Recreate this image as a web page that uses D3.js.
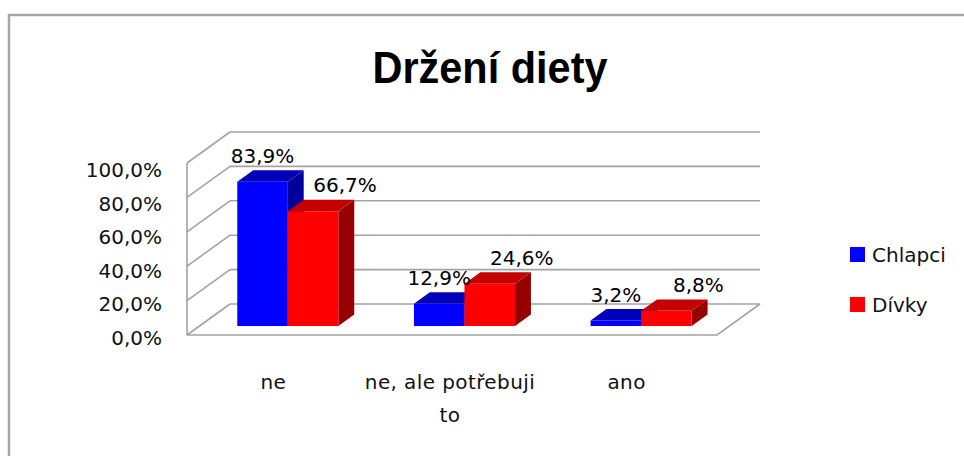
<!DOCTYPE html>
<html>
<head>
<meta charset="utf-8">
<script src="https://cdn.jsdelivr.net/npm/d3@7/dist/d3.min.js"></script>
<style>
  html, body { margin: 0; padding: 0; background: #fff; }
  svg { display: block; }
</style>
</head>
<body>
<svg id="chart" width="964" height="456"></svg>
<script>
const title = "Držení diety";
const categories = ["ne", "ne, ale potřebuji to", "ano"];
const categoryLines = [["ne"], ["ne, ale potřebuji", "to"], ["ano"]];
const seriesNames = ["Chlapci", "Dívky"];
const chlapci = [83.9, 12.9, 3.2];
const divky = [66.7, 24.6, 8.8];
const tickValues = [0, 20, 40, 60, 80, 100];

const seriesValues = [chlapci, divky];
const frontColors = ["#0000ff", "#ff0000"];
const topColors = ["#0000bb", "#c40000"];
const sideColors = ["#00009c", "#960000"];

const fmt = v => v.toFixed(1).replace(".", ",") + "%";

const svg = d3.select("#chart");
const font = "'DejaVu Sans', Verdana, sans-serif";

// outer frame
svg.append("rect").attr("x", 9).attr("y", 15).attr("width", 1000).attr("height", 500)
  .attr("fill", "none").attr("stroke", "#a6a6a6").attr("stroke-width", 2.5);

// title
svg.append("text").attr("x", 490).attr("y", 83).attr("text-anchor", "middle")
  .attr("font-family", "'Liberation Sans Narrow', 'Liberation Sans', Arial, sans-serif").attr("font-weight", "bold")
  .attr("font-size", 45).attr("textLength", 235).attr("lengthAdjust", "spacingAndGlyphs")
  .attr("fill", "#000").text(title);

// 3D geometry
const DX = 43, DY = -31;          // full depth offset
const x = d3.scaleBand().domain(categories).range([187, 717]).padding(0);
const y = d3.scaleLinear().domain([0, 100]).range([335, 163]);
const yLabel = d3.scaleLinear().domain([0, 100]).range([338, 170]);
const proj = (px, py, d) => [px + DX * d, py + DY * d];

const gridColor = "#a3a3a3";
const grid = svg.append("g").attr("stroke", gridColor).attr("stroke-width", 1.6).attr("fill", "none");

// side wall slanted lines + back wall horizontal lines
tickValues.forEach(v => {
  const [bx, by] = proj(x.range()[0], y(v), 1);
  grid.append("line").attr("x1", x.range()[0]).attr("y1", y(v)).attr("x2", bx).attr("y2", by);
  const [ex] = proj(x.range()[1], y(v), 1);
  grid.append("line").attr("x1", bx).attr("y1", by).attr("x2", ex).attr("y2", by);
});
// side wall front edge
grid.append("line").attr("x1", x.range()[0]).attr("y1", y(0)).attr("x2", x.range()[0]).attr("y2", y(100));
// floor front + right edge
{
  const [rx, ry] = proj(x.range()[1], y(0), 1);
  grid.append("path").attr("d", `M${x.range()[0]},${y(0)} L${x.range()[1]},${y(0)} L${rx},${ry}`);
}

// y tick labels
const yAxis = d3.axisLeft(yLabel).tickValues(tickValues).tickSize(0).tickPadding(0).tickFormat(fmt);
const ya = svg.append("g").attr("transform", "translate(162,0)").call(yAxis);
ya.select(".domain").remove();
ya.selectAll("text").attr("font-family", font).attr("font-size", 20).attr("fill", "#111");

// bars
const D0 = 0.29, D1 = 0.66;
const barW = x.bandwidth() * 0.286;
const bars = svg.append("g");
const labels = [];
categories.forEach((c, i) => {
  const center = x(c) + x.bandwidth() / 2;
  seriesValues.forEach((vals, s) => {
    const v = vals[i];
    const x0 = center - barW + s * barW;
    const x1 = x0 + barW;
    const [fx0, fyb] = proj(x0, y(0), D0);
    const [fx1] = proj(x1, y(0), D0);
    const fyt = proj(x0, y(v), D0)[1];
    const ddx = DX * (D1 - D0), ddy = DY * (D1 - D0);
    // side
    bars.append("path").attr("fill", sideColors[s])
      .attr("d", `M${fx1},${fyb} L${fx1 + ddx},${fyb + ddy} L${fx1 + ddx},${fyt + ddy} L${fx1},${fyt} Z`);
    // top
    bars.append("path").attr("fill", topColors[s])
      .attr("d", `M${fx0},${fyt} L${fx1},${fyt} L${fx1 + ddx},${fyt + ddy} L${fx0 + ddx},${fyt + ddy} Z`);
    // front
    bars.append("rect").attr("x", fx0).attr("y", fyt).attr("width", fx1 - fx0).attr("height", fyb - fyt)
      .attr("fill", frontColors[s]);
    labels.push({ x: (fx0 + fx1) / 2 + (s === 1 ? 32 : 0), y: fyt - 26, t: fmt(v) });
  });
});

svg.append("g").selectAll("text").data(labels).join("text")
  .attr("x", d => d.x).attr("y", d => d.y).attr("dy", "0.36em").attr("text-anchor", "middle")
  .attr("font-family", font).attr("font-size", 20).attr("fill", "#000").text(d => d.t);

// category labels
categories.forEach((c, i) => {
  const cx = x(c) + x.bandwidth() / 2 - 2;
  const t = svg.append("text").attr("text-anchor", "middle").attr("font-family", font)
    .attr("font-size", 20).attr("fill", "#111").attr("letter-spacing", 0.4);
  categoryLines[i].forEach((line, k) => {
    t.append("tspan").attr("x", cx).attr("y", 382 + k * 33).attr("dy", "0.36em").text(line);
  });
});

// legend
const legend = svg.append("g");
seriesNames.forEach((n, s) => {
  const ly = 255 + s * 50;
  legend.append("rect").attr("x", 850).attr("y", ly - 8).attr("width", 15).attr("height", 15)
    .attr("fill", frontColors[s]);
  legend.append("text").attr("x", 872).attr("y", ly).attr("dy", "0.36em")
    .attr("font-family", font).attr("font-size", 20).attr("fill", "#111").text(n);
});
</script>
</body>
</html>
